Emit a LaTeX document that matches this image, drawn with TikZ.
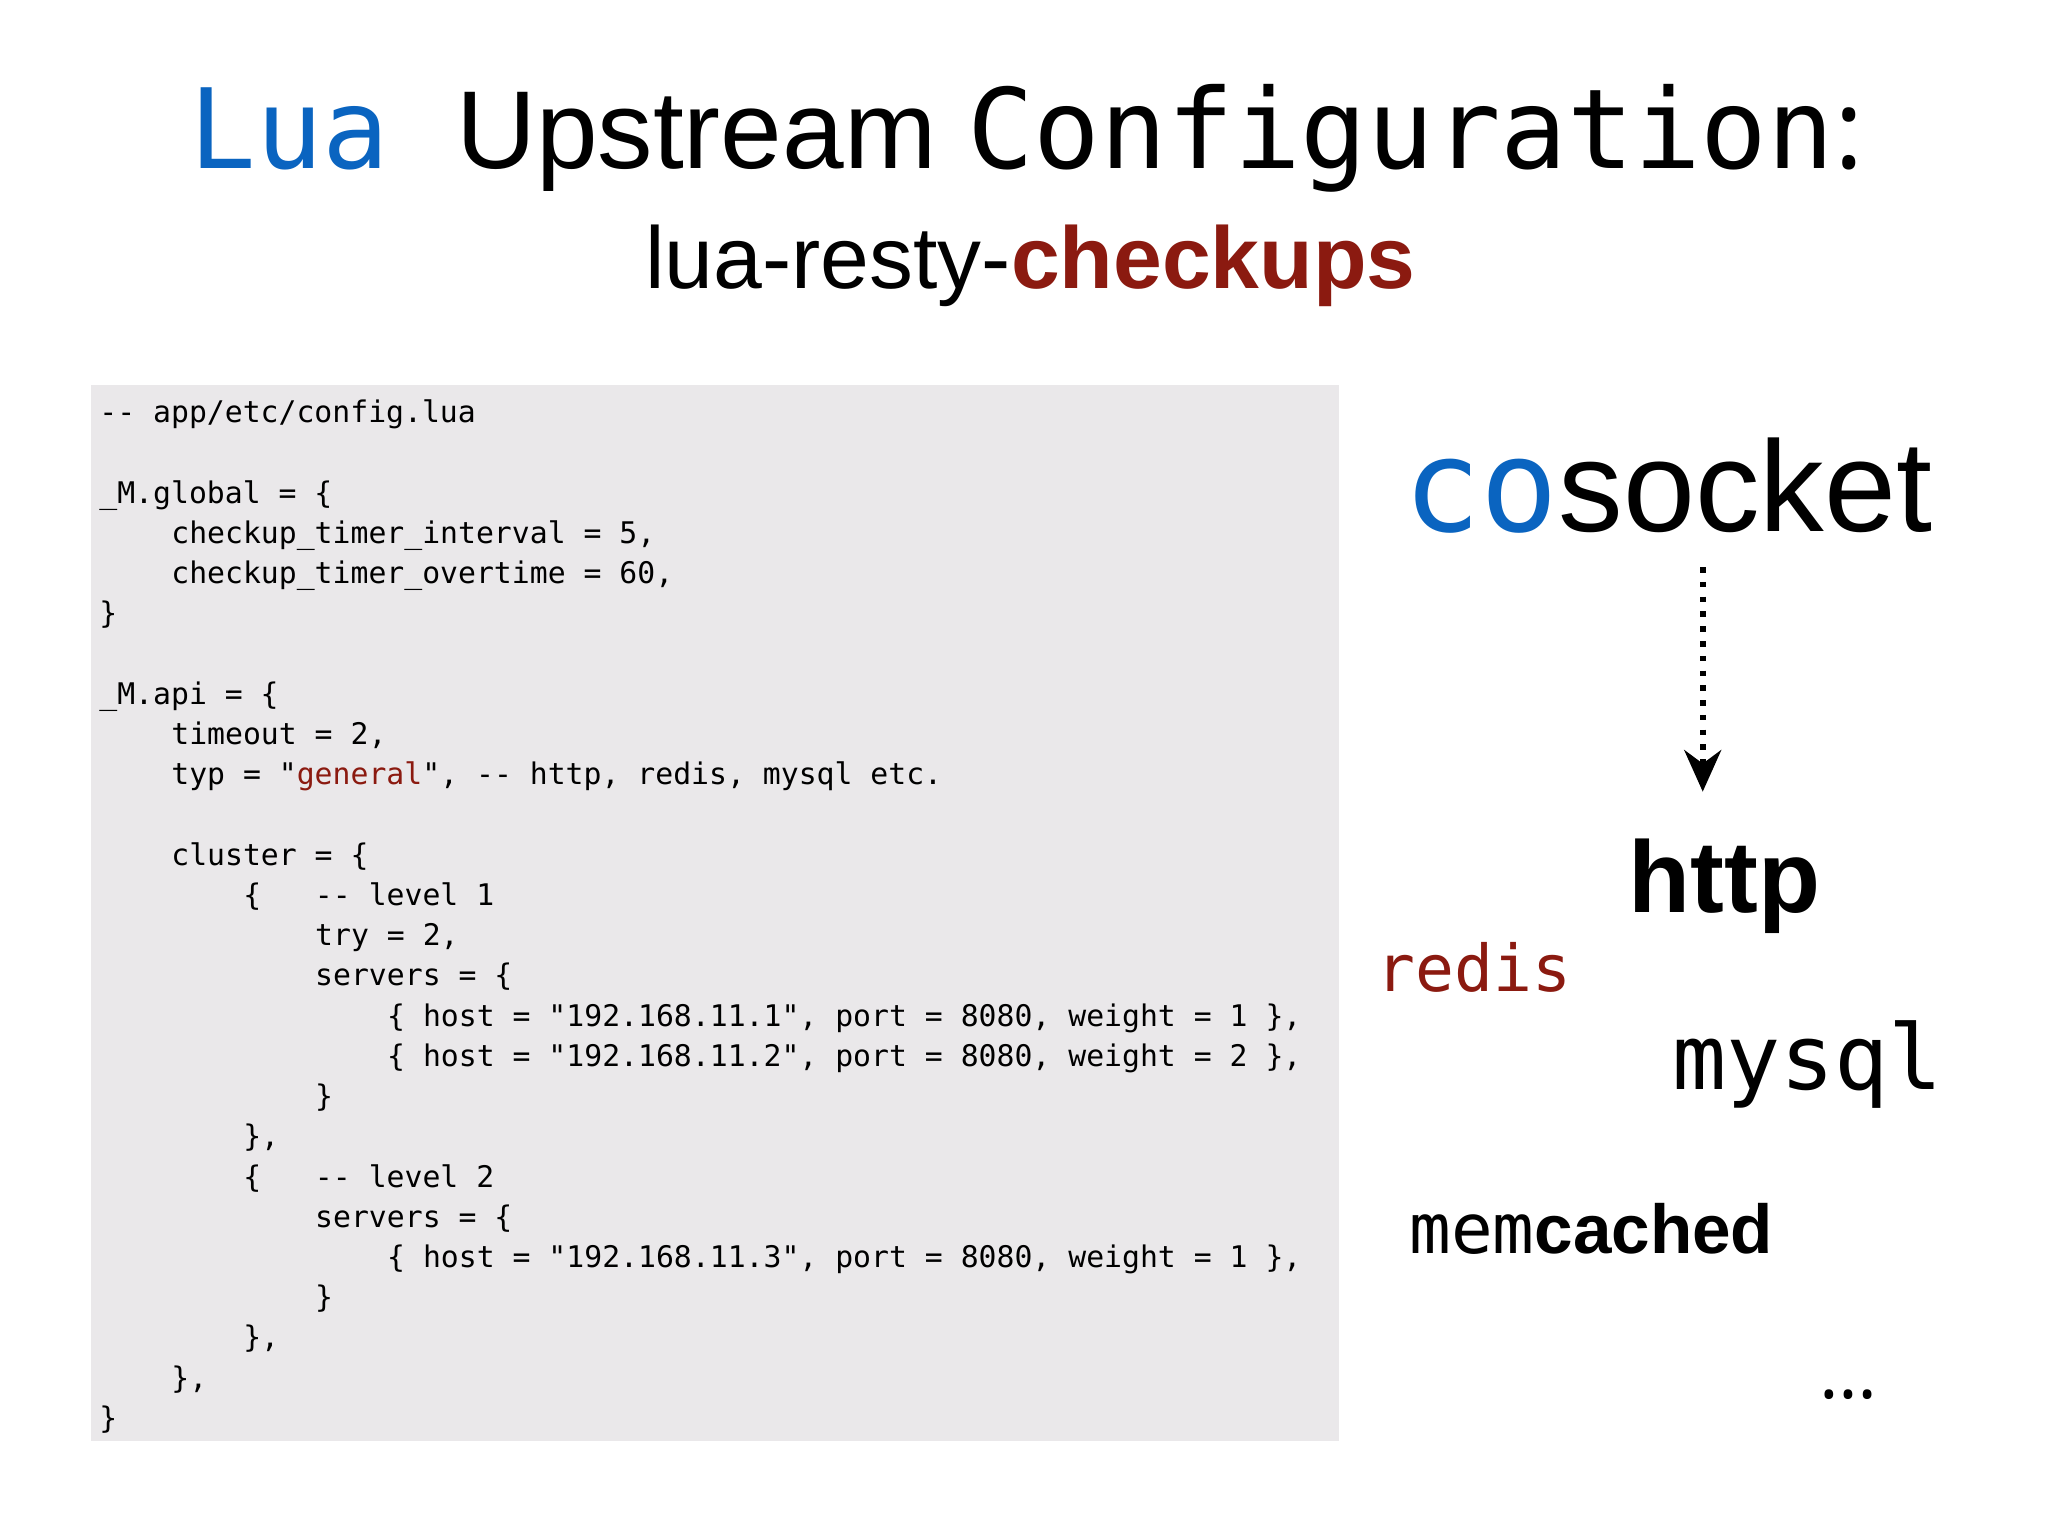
\documentclass[tikz,border=0pt]{standalone}
\usepackage{fontspec}
\setmainfont{Open Sans}
\setsansfont{Liberation Sans}
\setmonofont{DejaVu Sans Mono}
\usetikzlibrary{arrows.meta}
\definecolor{luablue}{HTML}{0A64C0}
\definecolor{darkred}{HTML}{8B1A10}
\definecolor{codegray}{HTML}{EAE8EA}
\newcommand{\codeline}[3]{%
  \node (line#1) [codetext] at ({75+#2*13.7},{322+(#1-1)*30.64}) {#3};}

\begin{document}
\begin{tikzpicture}[x=0.01cm,y=-0.01cm,
codetext/.style={
	% plain monospace, one line each
	anchor=base west,inner sep=0pt,
	font=\ttfamily\fontsize{6.45}{8}\selectfont},
word/.style={anchor=base west,inner sep=0pt},
>=Stealth,
]
\useasboundingbox (0,0) rectangle (1560,1170);
\fill[white] (0,0) rectangle (1560,1170);

% title
\node (title) [anchor=base,inner sep=0pt] at (782,128)
  {\fontsize{24}{24}\selectfont\color{luablue}\ttfamily Lua\
   \color{black}\sffamily Upstream\ \ttfamily Configuration\rmfamily:};
\node (subtitle) [anchor=base,inner sep=0pt] at (785,220)
  {\sffamily\fontsize{19}{20}\selectfont lua-resty-\textbf{\color{darkred}checkups}};

% code box
\fill[codegray] (69,293) rectangle (1020,1098);
\codeline{1}{0}{-- app/etc/config.lua}
\codeline{3}{0}{\_M.global = \{}
\codeline{4}{4}{checkup\_timer\_interval = 5,}
\codeline{5}{4}{checkup\_timer\_overtime = 60,}
\codeline{6}{0}{\}}
\codeline{8}{0}{\_M.api = \{}
\codeline{9}{4}{timeout = 2,}
\codeline{10}{4}{typ = "\textcolor{darkred}{general}", -- http, redis, mysql etc.}
\codeline{12}{4}{cluster = \{}
\codeline{13}{8}{\{\ \ \ -- level 1}
\codeline{14}{12}{try = 2,}
\codeline{15}{12}{servers = \{}
\codeline{16}{16}{\{ host = "192.168.11.1", port = 8080, weight = 1 \},}
\codeline{17}{16}{\{ host = "192.168.11.2", port = 8080, weight = 2 \},}
\codeline{18}{12}{\}}
\codeline{19}{8}{\},}
\codeline{20}{8}{\{\ \ \ -- level 2}
\codeline{21}{12}{servers = \{}
\codeline{22}{16}{\{ host = "192.168.11.3", port = 8080, weight = 1 \},}
\codeline{23}{12}{\}}
\codeline{24}{8}{\},}
\codeline{25}{4}{\},}
\codeline{26}{0}{\}}

% right side
\node (cosocket) [word] at (1068,405)
  {\fontsize{28}{28}\selectfont\textcolor{luablue}{\ttfamily co}\sffamily socket};
\coordinate (arrtop) at (1297,432);
\node (http) [word] at (1240,695)
  {\sffamily\bfseries\fontsize{22}{22}\selectfont http};
\draw[dotted,very thick,-{Stealth[length=9pt,width=8pt]}] (arrtop) -- (1297,603);
\node (redis) [word] at (1048,755)
  {\ttfamily\fontsize{14}{15}\selectfont\color{darkred}redis};
\node (mysql) [word] at (1273,830)
  {\ttfamily\fontsize{19.5}{21}\selectfont mysql};
\node (memcached) [word] at (1073,955)
  {\fontsize{15}{17}\selectfont\ttfamily mem\sffamily\bfseries cached};
\node (more) [word] at (1385,1065)
  {\fontsize{16}{16}\selectfont\ldots};
\end{tikzpicture}
\end{document}
